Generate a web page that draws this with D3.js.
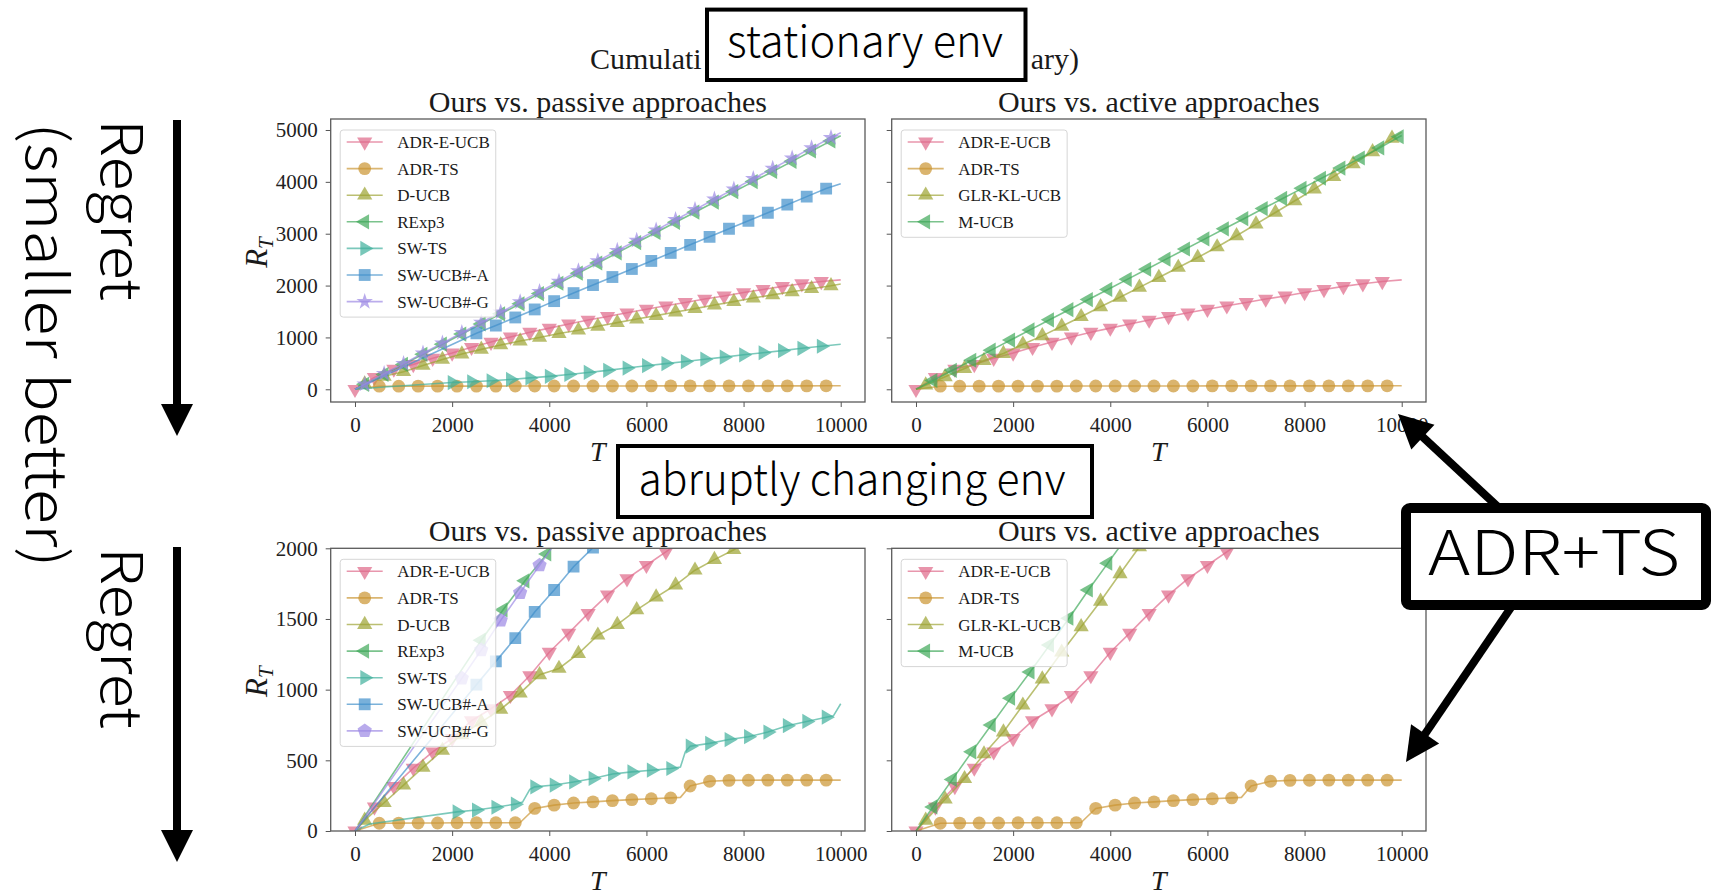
<!DOCTYPE html>
<html lang="en">
<head>
<meta charset="UTF-8" />
<title>Cumulative regret</title>
<script src="https://d3js.org/d3.v7.min.js"></script>
<style>
  body { margin: 0; overflow: hidden; background: #fff; }
  .tick text { font-family: "Liberation Serif", serif; font-size: 21px; fill: #222; }
  .tick line { stroke: #555; }
  .serif { font-family: "Liberation Serif", serif; fill: #1a1a1a; }
  .note { font-family: "Noto Sans CJK JP", "Noto Sans", sans-serif; font-weight: 300; fill: #000; }
</style>
</head>
<body>
<svg width="1714" height="895"></svg>
<script>
// ---- tick values ----
const xTicks = [0, 2000, 4000, 6000, 8000, 10000];
const yTicksStationary = [0, 1000, 2000, 3000, 4000, 5000];
const yTicksAbrupt = [0, 500, 1000, 1500, 2000];

const passiveNames = ["ADR-E-UCB", "ADR-TS", "D-UCB", "RExp3", "SW-TS", "SW-UCB#-A", "SW-UCB#-G"];
const activeNames = ["ADR-E-UCB", "ADR-TS", "GLR-KL-UCB", "M-UCB"];

// ---- stationary env: marker points [T, R_T] and extra line vertices ----
const statAdrEUcb = [[0,0],[400,230],[800,390],[1200,480],[1600,600],[2000,700],[2400,810],[2800,910],[3200,1010],[3600,1100],[4000,1180],[4400,1260],[4800,1335],[5200,1405],[5600,1475],[6000,1545],[6400,1610],[6800,1675],[7200,1740],[7600,1800],[8000,1865],[8400,1925],[8800,1985],[9200,2035],[9600,2080]];
const statAdrEUcbLine = [[10000,2110]];
const statAdrTs = [[500,60],[900,60],[1300,61],[1700,61],[2100,62],[2500,62],[2900,62],[3300,63],[3700,63],[4100,63],[4500,64],[4900,64],[5300,64],[5700,64],[6100,65],[6500,65],[6900,65],[7300,65],[7700,66],[8100,66],[8500,66],[8900,66],[9300,66],[9700,67]];
const statAdrTsLine = [[0,0],[10000,67]];
const statDUcb = [[200,100],[600,250],[1000,340],[1400,460],[1800,575],[2200,680],[2600,770],[3000,855],[3400,930],[3800,1000],[4200,1075],[4600,1140],[5000,1215],[5400,1285],[5800,1355],[6200,1420],[6600,1490],[7000,1555],[7400,1625],[7800,1690],[8200,1760],[8600,1820],[9000,1880],[9400,1940],[9800,1995]];
const statDUcbLine = [[0,0],[10000,2030]];
const statRexp3 = [[200,95],[600,285],[1000,480],[1400,675],[1800,870],[2200,1065],[2600,1260],[3000,1455],[3400,1650],[3800,1845],[4200,2045],[4600,2240],[5000,2435],[5400,2630],[5800,2830],[6200,3025],[6600,3220],[7000,3415],[7400,3610],[7800,3810],[8200,4005],[8600,4200],[9000,4395],[9400,4595],[9800,4790]];
const statRexp3Line = [[0,0],[10000,4890]];
const statSwTs = [[2000,130],[2400,145],[2800,165],[3200,190],[3600,220],[4000,250],[4400,285],[4800,325],[5200,365],[5600,410],[6000,455],[6400,495],[6800,535],[7200,580],[7600,620],[8000,665],[8400,705],[8800,745],[9200,790],[9600,830]];
const statSwTsLine = [[0,0],[600,45],[10000,870]];
const statSwUcbA = [[2500,1080],[2900,1230],[3300,1385],[3700,1540],[4100,1700],[4500,1855],[4900,2010],[5300,2165],[5700,2320],[6100,2475],[6500,2630],[6900,2785],[7300,2940],[7700,3095],[8100,3250],[8500,3405],[8900,3560],[9300,3715],[9700,3870]];
const statSwUcbALine = [[0,0],[10000,3965]];
const statSwUcbG = [[200,100],[600,300],[1000,495],[1400,695],[1800,890],[2200,1090],[2600,1290],[3000,1485],[3400,1685],[3800,1880],[4200,2080],[4600,2280],[5000,2475],[5400,2675],[5800,2870],[6200,3070],[6600,3270],[7000,3465],[7400,3665],[7800,3860],[8200,4060],[8600,4260],[9000,4455],[9400,4655],[9800,4850]];
const statSwUcbGLine = [[0,0],[10000,4950]];
const statGlr = [[200,80],[600,240],[1000,400],[1400,555],[1800,690],[2200,870],[2600,1030],[3000,1215],[3400,1400],[3800,1590],[4200,1775],[4600,1965],[5000,2155],[5400,2350],[5800,2540],[6200,2745],[6600,2960],[7000,3185],[7400,3410],[7800,3635],[8200,3860],[8600,4100],[9000,4345],[9400,4580],[9800,4840]];
const statGlrLine = [[0,0],[10000,4960]];
const statMUcb = [[350,170],[750,365],[1150,560],[1550,755],[1950,950],[2350,1145],[2750,1340],[3150,1535],[3550,1730],[3950,1925],[4350,2120],[4750,2315],[5150,2510],[5550,2705],[5950,2900],[6350,3095],[6750,3290],[7150,3485],[7550,3680],[7950,3875],[8350,4070],[8750,4265],[9150,4460],[9550,4655],[9950,4870]];
const statMUcbLine = [[0,0],[10000,4895]];

// ---- abruptly changing env ----
const abrAdrEUcb = [[0,0],[400,170],[800,315],[1200,445],[1600,560],[2000,655],[2400,780],[2800,865],[3200,960],[3600,1100],[4000,1265],[4400,1400],[4800,1540],[5200,1670],[5600,1785],[6000,1880],[6400,1975],[6800,2070]];
const abrAdrEUcbLine = [];
const abrAdrTs = [[500,55],[900,56],[1300,57],[1700,57],[2100,58],[2500,58],[2900,58],[3300,58],[3700,160],[4100,183],[4500,198],[4900,206],[5300,215],[5700,222],[6100,228],[6500,234],[6900,318],[7300,352],[7700,358],[8100,359],[8500,360],[8900,360],[9300,360],[9700,360]];
const abrAdrTsLine = [[0,0],[3400,60],[6700,238],[10000,360]];
const abrDUcb = [[200,75],[600,200],[1000,325],[1400,450],[1800,570],[2200,680],[2600,770],[3000,860],[3400,975],[3800,1105],[4200,1150],[4600,1255],[5000,1385],[5400,1460],[5800,1565],[6200,1655],[6600,1740],[7000,1845],[7400,1920],[7800,1990],[8200,2080]];
const abrDUcbLine = [[0,0]];
const abrRexp3 = [[2600,1350],[3050,1565],[3500,1770],[3950,1960],[4400,2170]];
const abrRexp3Line = [[0,0]];
const abrSwTs = [[2100,135],[2500,148],[2900,168],[3300,190],[3700,312],[4100,325],[4500,347],[4900,372],[5300,403],[5700,418],[6100,430],[6500,442],[6900,600],[7300,620],[7700,647],[8100,667],[8500,700],[8900,745],[9300,775],[9700,805]];
const abrSwTsLine = [[0,0],[300,50],[3450,205],[3600,295],[6700,452],[6800,560],[9850,815],[10000,900]];
const abrSwUcbA = [[2500,1035],[2900,1200],[3300,1365],[3700,1550],[4100,1705],[4500,1870],[4900,2005]];
const abrSwUcbALine = [[0,0]];
const abrSwUcbG = [[2200,1080],[2600,1280],[3000,1490],[3400,1685],[3800,1880],[4200,2075]];
const abrSwUcbGLine = [[0,0]];
const abrGlr = [[200,75],[600,225],[1000,370],[1400,545],[1800,700],[2200,890],[2600,1075],[3000,1265],[3400,1445],[3800,1625],[4200,1820],[4600,2010]];
const abrGlrLine = [[0,0]];
const abrMUcb = [[350,170],[750,365],[1150,560],[1550,750],[1950,940],[2350,1125],[2750,1315],[3150,1505],[3550,1705],[3950,1895],[4350,2085]];
const abrMUcbLine = [[0,0]];

// colour + marker per method
const styleOf = {
  "ADR-E-UCB": { color: "#de6687", shape: "down" },
  "ADR-TS": { color: "#ca9430", shape: "circle" },
  "D-UCB": { color: "#9ba230", shape: "up" },
  "GLR-KL-UCB": { color: "#9ba230", shape: "up" },
  "RExp3": { color: "#3ea858", shape: "left" },
  "M-UCB": { color: "#3ea858", shape: "left" },
  "SW-TS": { color: "#3eaf9b", shape: "right" },
  "SW-UCB#-A": { color: "#3e8eca", shape: "square" },
  "SW-UCB#-G": { color: "#9b87e4", shape: "star" }
};

const svg = d3.select("svg");

function pentagon(r) {
  const pts = d3.range(5).map(function (i) {
    const a = -Math.PI / 2 + i * 2 * Math.PI / 5;
    return [r * Math.cos(a), r * Math.sin(a)];
  });
  return "M" + pts.join("L") + "Z";
}
function markerD(shape) {
  if (shape === "circle") return d3.symbol(d3.symbolCircle, 130)();
  if (shape === "square") return d3.symbol(d3.symbolSquare, 140)();
  if (shape === "star") return d3.symbol(d3.symbolStar, 85)();
  if (shape === "pentagon") return pentagon(7.5);
  return d3.symbol(d3.symbolTriangle, 100)();
}
const rotOf = { up: 0, down: 180, left: -90, right: 90 };
function rot(shape) { return rotOf[shape] || 0; }

let clipCount = 0;
function drawPanel(p) {
  const b = p.box;
  const x = d3.scaleLinear().domain([-500, 10500]).range([b.x0, b.x1]);
  const y = d3.scaleLinear().domain(p.yDomain).range([b.y1, b.y0]);
  const clipId = "clip" + (clipCount++);
  svg.append("clipPath").attr("id", clipId).append("rect")
    .attr("x", b.x0).attr("y", b.y0).attr("width", b.x1 - b.x0).attr("height", b.y1 - b.y0);

  const plot = svg.append("g").attr("clip-path", `url(#${clipId})`);
  p.series.forEach(function (s) {
    const st = styleOf[s.name];
    const shape = s.shape || st.shape;
    const pts = s.marks.concat(s.line).sort(function (a, c) { return a[0] - c[0]; });
    plot.append("path").datum(pts)
      .attr("d", d3.line().x(d => x(d[0])).y(d => y(d[1])))
      .attr("fill", "none").attr("stroke", st.color)
      .attr("stroke-width", 1.6).attr("opacity", 0.68);
    plot.selectAll(null).data(s.marks).join("path")
      .attr("transform", d => `translate(${x(d[0])},${y(d[1])}) rotate(${rot(shape)})`)
      .attr("d", markerD(shape))
      .attr("fill", st.color).attr("opacity", 0.7);
  });

  // axes
  const xa = svg.append("g").attr("transform", `translate(0,${b.y1})`)
    .call(d3.axisBottom(x).tickValues(xTicks).tickFormat(d3.format("d")).tickSize(5).tickPadding(10));
  xa.select(".domain").remove();
  const ya = svg.append("g").attr("transform", `translate(${b.x0},0)`)
    .call(d3.axisLeft(y).tickValues(p.yTicks).tickFormat(p.yLabels ? d3.format("d") : "").tickSize(5).tickPadding(8));
  ya.select(".domain").remove();

  svg.append("rect").attr("x", b.x0).attr("y", b.y0)
    .attr("width", b.x1 - b.x0).attr("height", b.y1 - b.y0)
    .attr("fill", "none").attr("stroke", "#5a5a5a").attr("stroke-width", 1.3);

  svg.append("text").attr("class", "serif")
    .attr("x", (b.x0 + b.x1) / 2).attr("y", b.y0 - 7)
    .attr("text-anchor", "middle").style("font-size", "30px").text(p.title);

  svg.append("text").attr("class", "serif")
    .attr("x", (b.x0 + b.x1) / 2).attr("y", b.y1 + 59)
    .attr("text-anchor", "middle").style("font-size", "28px").style("font-style", "italic").text("T");

  if (p.yLabels) {
    const yl = svg.append("text").attr("class", "serif")
      .attr("transform", `translate(267,${(b.y0 + b.y1) / 2 - 8}) rotate(-90)`)
      .attr("text-anchor", "middle").style("font-size", "31px").style("font-style", "italic");
    yl.append("tspan").text("R");
    yl.append("tspan").attr("dy", 6).style("font-size", "21px").text("T");
  }

  // legend
  const lx = b.x0 + 9.5, ly = b.y0 + 11;
  const lg = svg.append("g").attr("transform", `translate(${lx},${ly})`);
  const bg = lg.append("rect");
  const rows = lg.selectAll("g").data(p.series).join("g")
    .attr("transform", (d, i) => `translate(0,${12 + i * 26.6})`);
  rows.append("line").attr("x1", 6.5).attr("x2", 42.5)
    .attr("stroke", d => styleOf[d.name].color).attr("stroke-width", 1.6).attr("opacity", 0.68);
  rows.append("path")
    .attr("transform", d => `translate(24.5,0) rotate(${rot(d.shape || styleOf[d.name].shape)})`)
    .attr("d", d => markerD(d.shape || styleOf[d.name].shape))
    .attr("fill", d => styleOf[d.name].color).attr("opacity", 0.7);
  const labels = rows.append("text").attr("class", "serif")
    .attr("x", 57).attr("y", 6).style("font-size", "17px").text(d => d.name);
  let maxW = 0;
  labels.each(function () { maxW = Math.max(maxW, this.getComputedTextLength()); });
  bg.attr("x", 0).attr("y", 0).attr("rx", 3)
    .attr("width", 57 + maxW + 6).attr("height", 12 + (p.series.length - 1) * 26.6 + 15.5)
    .attr("fill", "#fff").attr("fill-opacity", 0.8).attr("stroke", "#d6d6d6").attr("stroke-width", 1);
}

const boxTL = { x0: 330.7, x1: 865, y0: 119, y1: 402 };
const boxTR = { x0: 891.7, x1: 1426, y0: 119, y1: 402 };
const boxBL = { x0: 330.7, x1: 865, y0: 548.3, y1: 831 };
const boxBR = { x0: 891.7, x1: 1426, y0: 548.3, y1: 831 };

// the suptitle is mostly covered by the "stationary env" box; only its ends show
svg.append("text").attr("class", "serif").attr("x", 590).attr("y", 69)
  .style("font-size", "30px").text("Cumulati");
svg.append("text").attr("class", "serif").attr("x", 1079).attr("y", 69)
  .attr("text-anchor", "end").style("font-size", "30px").text("ary)");

const stationaryMarks = [statAdrEUcb, statAdrTs, statDUcb, statRexp3, statSwTs, statSwUcbA, statSwUcbG];
const stationaryLines = [statAdrEUcbLine, statAdrTsLine, statDUcbLine, statRexp3Line, statSwTsLine, statSwUcbALine, statSwUcbGLine];
const abruptMarks = [abrAdrEUcb, abrAdrTs, abrDUcb, abrRexp3, abrSwTs, abrSwUcbA, abrSwUcbG];
const abruptLines = [abrAdrEUcbLine, abrAdrTsLine, abrDUcbLine, abrRexp3Line, abrSwTsLine, abrSwUcbALine, abrSwUcbGLine];

drawPanel({
  box: boxTL, yDomain: [-245, 5212], yTicks: yTicksStationary, yLabels: true,
  title: "Ours vs. passive approaches",
  series: passiveNames.map((n, i) => ({ name: n, marks: stationaryMarks[i], line: stationaryLines[i] }))
});
drawPanel({
  box: boxTR, yDomain: [-245, 5212], yTicks: yTicksStationary, yLabels: false,
  title: "Ours vs. active approaches",
  series: [
    { name: activeNames[0], marks: statAdrEUcb, line: statAdrEUcbLine },
    { name: activeNames[1], marks: statAdrTs, line: statAdrTsLine },
    { name: activeNames[2], marks: statGlr, line: statGlrLine },
    { name: activeNames[3], marks: statMUcb, line: statMUcbLine }
  ]
});
drawPanel({
  box: boxBL, yDomain: [0, 2000], yTicks: yTicksAbrupt, yLabels: true,
  title: "Ours vs. passive approaches",
  series: passiveNames.map((n, i) => ({
    name: n, marks: abruptMarks[i], line: abruptLines[i],
    shape: n === "SW-UCB#-G" ? "pentagon" : null
  }))
});
drawPanel({
  box: boxBR, yDomain: [0, 2000], yTicks: yTicksAbrupt, yLabels: false,
  title: "Ours vs. active approaches",
  series: [
    { name: activeNames[0], marks: abrAdrEUcb, line: abrAdrEUcbLine },
    { name: activeNames[1], marks: abrAdrTs, line: abrAdrTsLine },
    { name: activeNames[2], marks: abrGlr, line: abrGlrLine },
    { name: activeNames[3], marks: abrMUcb, line: abrMUcbLine }
  ]
});

// ---- annotations ----
function noteBox(x0, y0, x1, y1, sw, label, cx, base, size, len) {
  svg.append("rect").attr("x", x0 + sw / 2).attr("y", y0 + sw / 2)
    .attr("width", x1 - x0 - sw).attr("height", y1 - y0 - sw).attr("rx", sw > 6 ? 4 : 0)
    .attr("fill", "#fff").attr("stroke", "#000").attr("stroke-width", sw);
  svg.append("text").attr("class", "note").attr("x", cx).attr("y", base)
    .attr("text-anchor", "middle").style("font-size", size + "px")
    .attr("textLength", len).attr("lengthAdjust", "spacingAndGlyphs").text(label);
}
function arrow(x1, y1, x2, y2, w, hl, hw) {
  const dx = x2 - x1, dy = y2 - y1, L = Math.hypot(dx, dy);
  const ux = dx / L, uy = dy / L, bx = x2 - ux * hl, by = y2 - uy * hl;
  svg.append("line").attr("x1", x1).attr("y1", y1).attr("x2", bx + ux * 2).attr("y2", by + uy * 2)
    .attr("stroke", "#000").attr("stroke-width", w);
  svg.append("path").attr("fill", "#000")
    .attr("d", `M${x2},${y2}L${bx - uy * hw},${by + ux * hw}L${bx + uy * hw},${by - ux * hw}Z`);
}

noteBox(705, 7.6, 1027.5, 82, 4, "stationary env", 865, 57, 44, 276);
noteBox(616, 444, 1094, 519, 4, "abruptly changing env", 852, 495, 44, 427);
noteBox(1401, 503, 1711, 610, 10, "ADR+TS", 1554, 575, 62, 252);

arrow(1497, 506, 1398, 414, 8, 34, 17);
arrow(1512, 606, 1406, 762, 8, 34, 17);

arrow(177, 120, 177, 436, 8, 32, 16);
arrow(177, 547, 177, 862, 8, 32, 16);

svg.append("text").attr("class", "note").attr("transform", "translate(101,210) rotate(90)")
  .attr("text-anchor", "middle").style("font-size", "57px")
  .attr("textLength", 182).attr("lengthAdjust", "spacingAndGlyphs").text("Regret");
svg.append("text").attr("class", "note").attr("transform", "translate(26,345) rotate(90)")
  .attr("text-anchor", "middle").style("font-size", "57px")
  .attr("textLength", 445).attr("lengthAdjust", "spacingAndGlyphs").text("(smaller better)");
svg.append("text").attr("class", "note").attr("transform", "translate(101,638) rotate(90)")
  .attr("text-anchor", "middle").style("font-size", "57px")
  .attr("textLength", 182).attr("lengthAdjust", "spacingAndGlyphs").text("Regret");
</script>
</body>
</html>
